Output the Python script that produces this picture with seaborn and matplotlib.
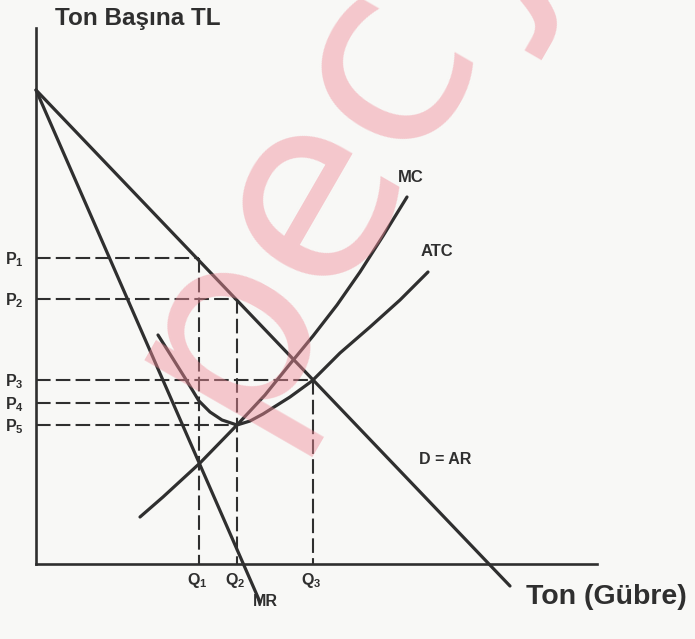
import numpy as np
import pandas as pd
import seaborn as sns
import matplotlib.pyplot as plt

# values (quantity on x, price on y, arbitrary units)

q_levels = [16.3, 20.1, 27.7]            # Q1, Q2, Q3
q_names = ['$Q_1$', '$Q_2$', '$Q_3$']
p_levels = [30.6, 26.5, 18.4, 16.1, 13.9]  # P1 .. P5
p_names = ['$P_1$', '$P_2$', '$P_3$', '$P_4$', '$P_5$']
p_to_q = [0, 1, 2, 0, 1]                 # which Q each dashed price line runs to

demand_q = [0.0, 47.4]
demand_p = [47.4, -2.2]

mr_q = [0.0, 22.4]
mr_p = [47.4, -3.8]

mc_q = [10.4, 12.7, 16.4, 20.1, 22.9, 25.4, 27.7, 30.1, 32.4, 34.7, 37.1]
mc_p = [4.7, 6.7, 10.1, 13.9, 16.9, 20.0, 22.8, 25.9, 29.2, 32.8, 36.7]

atc_q = [12.2, 13.4, 14.9, 16.3, 17.4, 18.6, 20.1, 21.4, 22.7, 25.4, 27.6, 30.4, 33.4, 36.4, 39.2]
atc_p = [22.9, 21.0, 18.6, 16.3, 15.2, 14.4, 13.9, 14.3, 15.0, 16.7, 18.3, 21.1, 23.7, 26.4, 29.2]

curves = pd.concat([
    pd.DataFrame({'q': demand_q, 'p': demand_p, 'curve': 'D'}),
    pd.DataFrame({'q': mr_q, 'p': mr_p, 'curve': 'MR'}),
    pd.DataFrame({'q': mc_q, 'p': mc_p, 'curve': 'MC'}),
    pd.DataFrame({'q': atc_q, 'p': atc_p, 'curve': 'ATC'}),
], ignore_index=True)

sns.set_theme(style="white")
plt.rcParams['font.family'] = ['Liberation Sans', 'DejaVu Sans']
plt.rcParams['mathtext.fontset'] = 'custom'
plt.rcParams['mathtext.rm'] = 'Liberation Sans:bold'
plt.rcParams['mathtext.it'] = 'Liberation Sans:bold'
plt.rcParams['mathtext.bf'] = 'Liberation Sans:bold'
plt.rcParams['mathtext.default'] = 'bf'

ink = '#2f2f2f'
paper = '#f8f8f6'

fig, ax = plt.subplots(figsize=(6.95, 6.39), dpi=100)
fig.patch.set_facecolor(paper)
ax.set_facecolor(paper)
ax.set_position([0, 0, 1, 1])
ax.set_xlim(-3.6, 65.9)
ax.set_ylim(-7.5, 56.4)

# dashed guide lines
for p, qi in zip(p_levels, p_to_q):
    ax.plot([0, q_levels[qi]], [p, p], color=ink, lw=1.5, ls=(0, (7, 2.5)), zorder=2)
for q, p in zip(q_levels, p_levels[:3]):
    ax.plot([q, q], [p, 0], color=ink, lw=1.5, ls=(0, (7, 2.5)), zorder=2)

sns.lineplot(data=curves, x='q', y='p', units='curve', estimator=None, sort=False,
             color=ink, lw=2.3, ax=ax, zorder=3)

# axes as spines through the origin
for side in ['top', 'right']:
    ax.spines[side].set_visible(False)
ax.spines['left'].set_position(('data', 0))
ax.spines['bottom'].set_position(('data', 0))
ax.spines['left'].set_bounds(0, 53.6)
ax.spines['bottom'].set_bounds(0, 56.1)
for side in ['left', 'bottom']:
    ax.spines[side].set_color(ink)
    ax.spines[side].set_linewidth(1.9)
ax.set_xticks([])
ax.set_yticks([])
ax.set_xlabel('')
ax.set_ylabel('')

for p, name in zip(p_levels, p_names):
    ax.text(-2.2, p - 0.2, name, ha='center', va='center', fontsize=11.5, color=ink)
for q, name in zip(q_levels, q_names):
    ax.text(q - 0.2, -1.6, name, ha='center', va='center', fontsize=11.5, color=ink)

ax.text(37.5, 38.7, 'MC', ha='center', va='center', fontsize=12, fontweight='bold', color=ink)
ax.text(40.1, 31.2, 'ATC', ha='center', va='center', fontsize=12, fontweight='bold', color=ink)
ax.text(40.9, 10.4, 'D = AR', ha='center', va='center', fontsize=11.5, fontweight='bold', color=ink)
ax.text(22.9, -3.7, 'MR', ha='center', va='center', fontsize=11.5, fontweight='bold', color=ink)

ax.text(10.2, 54.6, 'Ton Başına TL', ha='center', va='center', fontsize=17.5, fontweight='bold', color=ink)
ax.text(57.0, -3.3, 'Ton (Gübre)', ha='center', va='center', fontsize=20.5, fontweight='bold', color=ink)

# pink watermark of the scan
ax.text(30.0, 43.5, 'pecy', ha='center', va='center', fontsize=185, rotation=60,
        family='DejaVu Sans', color='#f08c99', alpha=0.45, zorder=5)

fig.savefig('out.png', dpi=100, facecolor=paper)
